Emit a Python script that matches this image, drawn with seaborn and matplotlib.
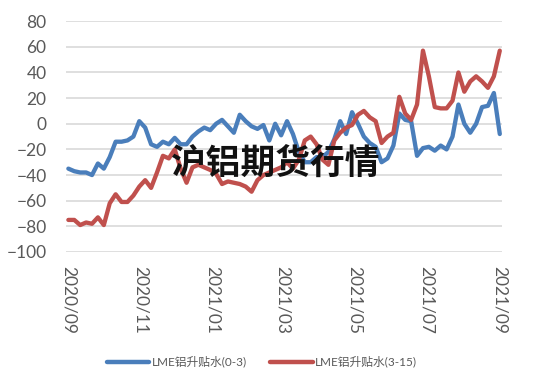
import pandas as pd
import seaborn as sns
import matplotlib.pyplot as plt
import matplotlib.dates as mdates

# 数据：2020/09/01 起每 5 天一个点
dates = pd.date_range('2020-09-01', periods=74, freq='5D')

cash_3m = [-35, -37, -38, -38, -40, -31, -35, -26, -14, -14,
           -13, -10, 2, -3, -16, -18, -14, -16, -11, -16,
           -16, -10, -6, -3, -5, 0, 3, -2, -7, 7,
           2, -2, -4, -1, -13, 0, -9, 2, -8, -22,
           -30, -30, -26, -26, -22, -12, 2, -8, 9, 0,
           -10, -15, -18, -30, -27, -17, 8, 3, 2, -25,
           -19, -18, -21, -17, -20, -10, 15, 0, -7, 0,
           13, 14, 24, -8]

m3_15 = [-75, -75, -79, -77, -78, -73, -79, -62, -55, -61,
         -61, -56, -49, -44, -50, -38, -25, -27, -20, -35,
         -46, -34, -32, -34, -36, -39, -47, -45, -46, -47,
         -49, -53, -44, -40, -38, -36, -34, -30, -35, -28,
         -13, -10, -16, -28, -32, -13, -7, -3, -1, 7,
         10, 5, 2, -15, -10, -7, 21, 8, 3, 15,
         57, 37, 13, 12, 12, 18, 40, 25, 33, 37,
         33, 28, 37, 57]

names = ['LME铝升贴水(0-3)', 'LME铝升贴水(3-15)']
colors = ['#4a7ebb', '#c0504d']
tick_dates = ['2020-09-01', '2020-11-01', '2021-01-01', '2021-03-01',
              '2021-05-01', '2021-07-01', '2021-09-01']

df = pd.concat([
    pd.DataFrame({'date': dates, 'value': cash_3m, 'series': names[0]}),
    pd.DataFrame({'date': dates, 'value': m3_15, 'series': names[1]}),
])

sns.set_style('white')
plt.rcParams['font.family'] = ['Lato', 'Noto Sans CJK SC', 'DejaVu Sans']

fig = plt.figure(figsize=(5.5, 3.85), dpi=100)
ax = fig.add_axes([0.12, 0.3455, 0.793, 0.5995])

sns.lineplot(data=df, x='date', y='value', hue='series', palette=colors,
             linewidth=3.1, ax=ax, legend=True)

ax.set_ylim(-100, 80)
ax.set_yticks(range(-100, 81, 20))
ax.set_xlim(pd.Timestamp('2020-08-30'), pd.Timestamp('2021-09-03'))
ax.set_xticks(pd.to_datetime(tick_dates))
ax.xaxis.set_major_formatter(mdates.DateFormatter('%Y/%m'))
ax.grid(axis='y', color='#d9d9d9', linewidth=1.2)
ax.set_axisbelow(True)
for s in ax.spines.values():
    s.set_visible(False)
ax.tick_params(axis='both', length=0, labelsize=12.5, labelcolor='#595959')
ax.tick_params(axis='x', pad=10, labelrotation=270)
ax.tick_params(axis='y', pad=14)
ax.set_xlabel('')
ax.set_ylabel('')

leg = ax.legend(loc='center', bbox_to_anchor=(0.476, 0.06), bbox_transform=fig.transFigure,
                ncol=2, frameon=False, fontsize=8.5, handlelength=3.6,
                handletextpad=0.2, columnspacing=2.0, labelcolor='#595959')
for line in leg.get_lines():
    line.set_linewidth(3.2)

fig.text(0.5, 0.577, '沪铝期货行情', ha='center', va='center', fontsize=25,
         fontweight='black', color='#111111', family=['Noto Sans CJK SC'])

fig.savefig('out.png', dpi=100)
